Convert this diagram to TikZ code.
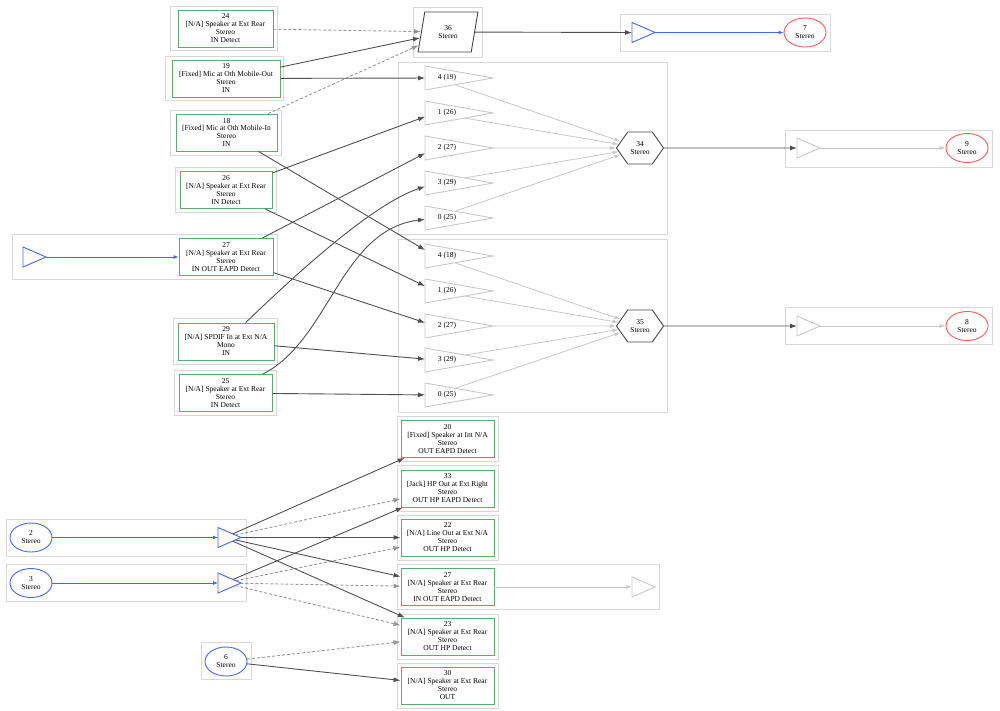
\documentclass[tikz,border=0pt]{standalone}
\usepackage{fontspec}
\setmainfont{Liberation Serif}
\usetikzlibrary{arrows.meta,shapes.geometric,shapes.symbols}
\definecolor{clus}{RGB}{216,216,216}
\definecolor{pin}{RGB}{95,170,110}
\definecolor{edk}{RGB}{80,80,80}
\definecolor{edash}{RGB}{150,150,150}
\definecolor{elt}{RGB}{200,200,200}
\definecolor{blu}{RGB}{70,100,255}
\definecolor{redc}{RGB}{255,90,90}
\definecolor{hexc}{RGB}{70,70,70}
\begin{document}
\begin{tikzpicture}[x=1pt,y=-1pt,font=\fontsize{7.5}{8}\selectfont,
  clusbox/.style={draw=clus,line width=1pt},
  pinbox/.style={rectangle,draw=pin,line width=0.9pt,align=center,inner xsep=3pt,inner ysep=0pt,minimum height=37pt},
  ell/.style={ellipse,line width=0.9pt,minimum width=42pt,minimum height=29pt,inner sep=0pt,align=center},
  tri/.style={isosceles triangle,isosceles triangle stretches,shape border rotate=0,inner sep=0pt,outer sep=0pt,line width=0.9pt,anchor=apex},
  bigtri/.style={tri,draw=elt,minimum width=24pt,minimum height=68pt},
  smtri/.style={tri,minimum width=20pt,minimum height=23pt},
  tlab/.style={inner sep=0pt},
  hexa/.style={signal,signal to=east and west,signal pointer angle=110,draw=hexc,line width=0.9pt,minimum width=47pt,minimum height=32pt,inner sep=0pt,align=center},
  para/.style={trapezium,trapezium left angle=78,trapezium right angle=102,trapezium stretches,draw=hexc,line width=0.9pt,minimum width=60pt,minimum height=40pt,inner sep=0pt,align=center},
  dk/.style={draw=edk,line width=0.9pt,-{Latex[length=7pt,width=5pt]}},
  ds/.style={dk,draw=edash,dash pattern=on 3pt off 2pt},
  lt/.style={draw=elt,line width=0.8pt,-{Latex[length=6pt,width=4pt]}},
  bl/.style={draw=blu,line width=0.9pt,-{Latex[length=5pt,width=4pt]}}]
\useasboundingbox (0,0) rectangle (1000,710);
% clusters
\foreach \a/\b/\c/\d in {170/6/277/50,165/56/283/100,170/110/281/155,175/167/276/212,12/234/277/279,173/318/277/364,174/370/276/415,413/7/482/57,620/14/830/51,398/62/667/234,398/239/667/412,785/130/992/167,785/307/992/344,397/416/498/461,397/465/498/511,397/515/498/560,397/564/659/609,397/614/498/659,397/663/498/708,6/519/246/556,6/564/246/601,201/642/251/679}
  \draw[clusbox] (\a,\b) rectangle (\c,\d);
% left pin nodes
\node[pinbox,minimum width=95pt] (n24) at (225.5,28.5) {24\\{}[N/A] Speaker at Ext Rear\\Stereo\\IN Detect};
\node[pinbox,minimum width=108pt] (n19) at (226,78.5) {19\\{}[Fixed] Mic at Oth Mobile-Out\\Stereo\\IN};
\node[pinbox,minimum width=101pt] (n18) at (226.5,132.5) {18\\{}[Fixed] Mic at Oth Mobile-In\\Stereo\\IN};
\node[pinbox,minimum width=92pt] (n26) at (226,190) {26\\{}[N/A] Speaker at Ext Rear\\Stereo\\IN Detect};
\node[pinbox,minimum width=94pt] (n27) at (226,257) {27\\{}[N/A] Speaker at Ext Rear\\Stereo\\IN OUT EAPD Detect};
\node[pinbox,minimum width=96pt] (n29) at (226,341.5) {29\\{}[N/A] SPDIF In at Ext N/A\\Mono\\IN};
\node[pinbox,minimum width=93pt] (n25) at (225.5,393) {25\\{}[N/A] Speaker at Ext Rear\\Stereo\\IN Detect};
\node[smtri,draw=blu] (tbl) at (46,257) {};
% mixer / selector
\node[para] (n36) at (448,32) {36\\Stereo};
\node[hexa] (h34) at (640,148) {34\\Stereo};
\node[hexa] (h35) at (640,326) {35\\Stereo};
\foreach \n/\y/\t in {a4/78/4 (19),a1/113/1 (26),a2/148/2 (27),a3/183/3 (29),a0/218/0 (25),b4/256/4 (18),b1/291/1 (26),b2/326/2 (27),b3/360/3 (29),b0/395/0 (25)}{
  \node[bigtri] (\n) at (493,\y) {};
  \node[tlab] (l\n) at (447,\y) {\t};
}
% outputs
\node[smtri,draw=blu] (t7) at (655,32.5) {};
\node[ell,draw=redc] (e7) at (805,32.5) {7\\Stereo};
\node[smtri,draw=elt] (t9) at (820,148) {};
\node[ell,draw=redc] (e9) at (967,148) {9\\Stereo};
\node[smtri,draw=elt] (t8) at (820,326) {};
\node[ell,draw=redc] (e8) at (967,326) {8\\Stereo};
% bottom
\node[ell,draw=blu] (e2) at (31,537.5) {2\\Stereo};
\node[smtri,draw=blu] (tb2) at (241,537.5) {};
\node[ell,draw=blu] (e3) at (31,583) {3\\Stereo};
\node[smtri,draw=blu] (tb3) at (241,583) {};
\node[ell,draw=blu] (e6) at (226,661.5) {6\\Stereo};
\node[pinbox,minimum width=93pt] (n20) at (447.5,439) {20\\{}[Fixed] Speaker at Int N/A\\Stereo\\OUT EAPD Detect};
\node[pinbox,minimum width=93pt] (n33) at (447.5,488.5) {33\\{}[Jack] HP Out at Ext Right\\Stereo\\OUT HP EAPD Detect};
\node[pinbox,minimum width=93pt] (n22) at (447.5,537.5) {22\\{}[N/A] Line Out at Ext N/A\\Stereo\\OUT HP Detect};
\node[pinbox,minimum width=93pt] (n27b) at (447.5,587) {27\\{}[N/A] Speaker at Ext Rear\\Stereo\\IN OUT EAPD Detect};
\node[pinbox,minimum width=93pt] (n23) at (447.5,636.5) {23\\{}[N/A] Speaker at Ext Rear\\Stereo\\OUT HP Detect};
\node[pinbox,minimum width=93pt] (n30) at (447.5,685.5) {30\\{}[N/A] Speaker at Ext Rear\\Stereo\\OUT};
\node[smtri,draw=elt] (tg27) at (655,587) {};
% edges top
\draw[ds] (n24) -- (n36);
\draw[dk] (n19) -- (n36);
\draw[ds] (n18) -- (n36);
\draw[dk] (n19) -- (a4);
\draw[dk] (n26) -- (a1);
\draw[dk] (n27) -- (a2);
\draw[dk] (n29) .. controls (290,280) and (370,205) .. (a3);
\draw[dk] (n25) .. controls (330,340) and (340,230) .. (a0);
\draw[dk] (n18) -- (b4);
\draw[dk] (n26) -- (b1);
\draw[dk] (n27) -- (b2);
\draw[dk] (n29) -- (b3);
\draw[dk] (n25) -- (b0);
\foreach \n in {a4,a1,a2,a3,a0} \draw[lt] (\n) -- (h34);
\foreach \n in {b4,b1,b2,b3,b0} \draw[lt] (\n) -- (h35);
\draw[dk] (h34) -- (t9);
\draw[dk] (h35) -- (t8);
\draw[dk] (n36) -- (t7);
\draw[bl] (t7) -- (e7);
\draw[lt] (t9) -- (e9);
\draw[lt] (t8) -- (e8);
\draw[bl] (tbl) -- (n27);
% edges bottom
\draw[bl] (e2) -- (tb2);
\draw[bl] (e3) -- (tb3);
\draw[dk] (tb2) -- (n20);
\draw[ds] (tb2) -- (n33);
\draw[dk] (tb3) -- (n33);
\draw[dk] (tb2) -- (n22);
\draw[ds] (tb3) -- (n22);
\draw[dk] (tb2) -- (n27b);
\draw[ds] (tb3) -- (n27b);
\draw[dk] (tb2) -- (n23);
\draw[ds] (tb3) -- (n23);
\draw[ds] (e6) -- (n23);
\draw[dk] (e6) -- (n30);
\draw[lt] (n27b) -- (tg27);
\end{tikzpicture}
\end{document}
